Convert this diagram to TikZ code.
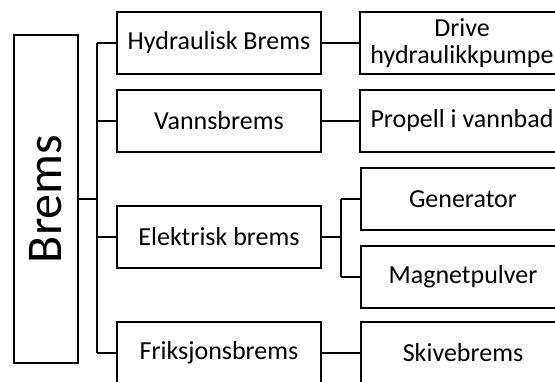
\documentclass[tikz,border=0pt]{standalone}
\usepackage{fontspec}
\setmainfont{Carlito}
\usepackage{graphicx}
\begin{document}
\begin{tikzpicture}[x=1pt,y=-1pt,
  box/.style={draw, line width=2pt, rectangle, minimum width=204pt,
    minimum height=62pt, inner sep=0pt, align=center,
    font=\fontsize{26}{27}\selectfont},
  link/.style={line width=2pt}]
\useasboundingbox[clip] (0,0) rectangle (555,381);

% root
\node[draw, line width=2pt, minimum width=64pt, minimum height=328pt, inner sep=0pt,
  font=\fontsize{50}{52}\selectfont] (brems) at (46,199) {\rotatebox{90}{Brems}};

% first level
\node[box] (hyd) at (219,43) {Hydraulisk Brems};
\node[box] (vann) at (219,121) {Vannsbrems};
\node[box] (elek) at (219,237) {Elektrisk brems};
\node[box] (frik) at (219,353) {Friksjonsbrems};

% second level
\node[box] (drive) at (462,43) {Drive\\hydraulikkpumpe};
\node[box] (prop) at (462,121) {Propell i vannbad};
\node[box] (gen) at (463,199) {Generator};
\node[box] (magn) at (463,277) {Magnetpulver};
\node[box] (skive) at (463,353) {Skivebrems};

% bus lines
\coordinate (trunk) at (97,0);
\coordinate (sub) at (341,0);

\draw[link] (brems.east) -- (brems.east -| trunk);
\draw[link] (trunk |- hyd.west) -- (trunk |- frik.west);
\foreach \n in {hyd,vann,elek,frik}
  \draw[link] (trunk |- \n.west) -- (\n.west);

\draw[link] (hyd.east) -- (drive.west);
\draw[link] (vann.east) -- (prop.west);
\draw[link] (frik.east) -- (skive.west);

\draw[link] (elek.east) -- (elek.east -| sub);
\draw[link] (sub |- gen.west) -- (sub |- magn.west);
\draw[link] (sub |- gen.west) -- (gen.west);
\draw[link] (sub |- magn.west) -- (magn.west);
\end{tikzpicture}
\end{document}
